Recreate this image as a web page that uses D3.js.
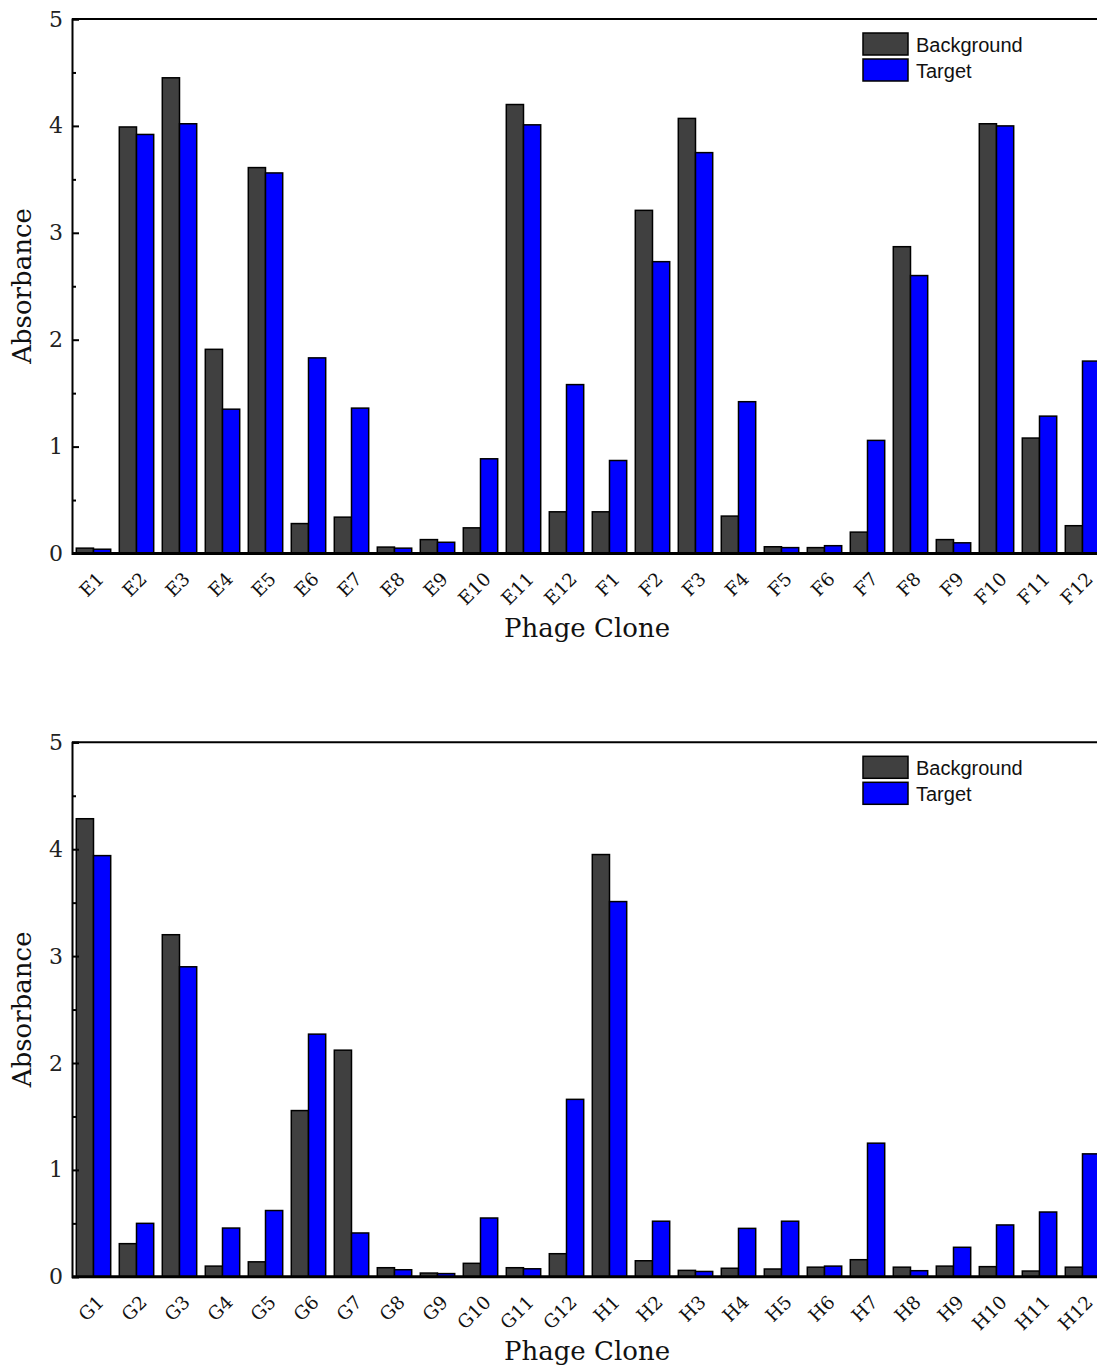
<!DOCTYPE html>
<html>
<head>
<meta charset="utf-8">
<script src="https://cdn.jsdelivr.net/npm/d3@7"></script>
<style>
  html, body { margin: 0; padding: 0; background: #fff; }
  svg { display: block; overflow: hidden; }
</style>
</head>
<body>
<svg id="chart" width="1097" height="1369"></svg>
<script>
// Clone plates E/F (upper panel) and G/H (lower panel)
const clonesEF = ["E1","E2","E3","E4","E5","E6","E7","E8","E9","E10","E11","E12",
                  "F1","F2","F3","F4","F5","F6","F7","F8","F9","F10","F11","F12"];
const backgroundEF = [0.05, 3.99, 4.45, 1.91, 3.61, 0.28, 0.34, 0.06, 0.13, 0.24, 4.20, 0.39,
                      0.39, 3.21, 4.07, 0.35, 0.063, 0.055, 0.20, 2.87, 0.13, 4.02, 1.08, 0.26];
const targetEF     = [0.04, 3.92, 4.02, 1.35, 3.56, 1.83, 1.36, 0.05, 0.105, 0.886, 4.01, 1.58,
                      0.87, 2.73, 3.75, 1.42, 0.055, 0.073, 1.058, 2.60, 0.10, 4.00, 1.285, 1.80];

const clonesGH = ["G1","G2","G3","G4","G5","G6","G7","G8","G9","G10","G11","G12",
                  "H1","H2","H3","H4","H5","H6","H7","H8","H9","H10","H11","H12"];
const backgroundGH = [4.285, 0.31, 3.20, 0.10, 0.14, 1.555, 2.12, 0.085, 0.035, 0.126, 0.085, 0.216,
                      3.95, 0.15, 0.06, 0.08, 0.073, 0.09, 0.16, 0.09, 0.10, 0.095, 0.054, 0.09];
const targetGH     = [3.94, 0.50, 2.90, 0.456, 0.62, 2.27, 0.41, 0.066, 0.03, 0.55, 0.075, 1.66,
                      3.51, 0.52, 0.05, 0.453, 0.52, 0.10, 1.25, 0.057, 0.276, 0.485, 0.606, 1.15];

const seriesNames = ["Background", "Target"];
const yMajorTicks = [0, 1, 2, 3, 4, 5];
const yMinorTicks = [0.5, 1.5, 2.5, 3.5, 4.5];

const colors = { Background: "#404040", Target: "#0000ff" };
const serif = "'DejaVu Serif', 'Liberation Serif', serif";
const sans = "'Liberation Sans', Arial, sans-serif";

const svg = d3.select("#chart");

function drawPanel(top, cats, bgVals, tgVals) {
  const plotLeft = 72, plotRight = 1104;
  const yTop = top, yBottom = top + 534.5;

  const g = svg.append("g");

  const x = d3.scaleBand().domain(cats).range([plotLeft, plotRight])
    .paddingInner(0.2).paddingOuter(0.1);
  const xs = d3.scaleBand().domain(seriesNames).range([0, x.bandwidth()]);
  const y = d3.scaleLinear().domain([0, 5]).range([yBottom, yTop]);

  const rows = cats.map((c, i) => ({ cat: c, Background: bgVals[i], Target: tgVals[i] }));

  // bars
  const groups = g.selectAll("g.grp").data(rows).join("g")
    .attr("class", "grp")
    .attr("transform", d => `translate(${x(d.cat)},0)`);
  groups.selectAll("rect")
    .data(d => seriesNames.map(s => ({ s, v: d[s] })))
    .join("rect")
    .attr("x", d => xs(d.s))
    .attr("width", xs.bandwidth())
    .attr("y", d => y(d.v))
    .attr("height", d => y(0) - y(d.v))
    .attr("fill", d => colors[d.s])
    .attr("stroke", "#000")
    .attr("stroke-width", 1.5);

  // frame top line
  g.append("line")
    .attr("x1", plotLeft).attr("x2", plotRight)
    .attr("y1", yTop).attr("y2", yTop)
    .attr("stroke", "#000").attr("stroke-width", 2);

  // y axis with inward ticks
  const yAxis = g.append("g")
    .attr("transform", `translate(${plotLeft},0)`)
    .call(d3.axisLeft(y).tickValues(yMajorTicks).tickSize(-7).tickPadding(10).tickFormat(d3.format("d")));
  yAxis.select(".domain").attr("stroke-width", 2);
  yAxis.selectAll(".tick line").attr("stroke-width", 2);
  yAxis.selectAll("text")
    .attr("font-family", serif).attr("font-size", 22).attr("fill", "#222")
    .attr("x", -9);

  const yMinor = g.append("g")
    .attr("transform", `translate(${plotLeft},0)`)
    .call(d3.axisLeft(y).tickValues(yMinorTicks).tickSize(-4).tickFormat(""));
  yMinor.select(".domain").remove();
  yMinor.selectAll(".tick line").attr("stroke-width", 2);

  // x axis
  const xAxis = g.append("g")
    .attr("transform", `translate(0,${yBottom})`)
    .call(d3.axisBottom(x).tickSize(0).tickPadding(0));
  xAxis.select(".domain").attr("stroke-width", 3).attr("d", `M${plotLeft},0H${plotRight}`);
  xAxis.selectAll(".tick text")
    .attr("font-family", serif).attr("font-size", 18.5).attr("fill", "#111")
    .attr("text-anchor", "end")
    .attr("dy", "0.35em")
    .attr("transform", "translate(7,22) rotate(-45)");

  // axis titles
  g.append("text")
    .attr("x", 587).attr("y", yBottom + 83)
    .attr("text-anchor", "middle")
    .attr("font-family", serif).attr("font-size", 26).attr("fill", "#111")
    .text("Phage Clone");

  g.append("text")
    .attr("transform", `translate(31,${yTop + 267}) rotate(-90)`)
    .attr("text-anchor", "middle")
    .attr("font-family", serif).attr("font-size", 26).attr("fill", "#111")
    .text("Absorbance");

  // legend
  const legend = g.append("g").attr("transform", `translate(863,${yTop + 14})`);
  seriesNames.forEach((s, i) => {
    legend.append("rect")
      .attr("x", 0).attr("y", i * 26)
      .attr("width", 45).attr("height", 22)
      .attr("fill", colors[s]).attr("stroke", "#000").attr("stroke-width", 1.5);
    legend.append("text")
      .attr("x", 53).attr("y", i * 26 + 18.5)
      .attr("font-family", sans).attr("font-size", 20).attr("fill", "#111")
      .text(s);
  });
}

drawPanel(19, clonesEF, backgroundEF, targetEF);
drawPanel(742.3, clonesGH, backgroundGH, targetGH);
</script>
</body>
</html>
